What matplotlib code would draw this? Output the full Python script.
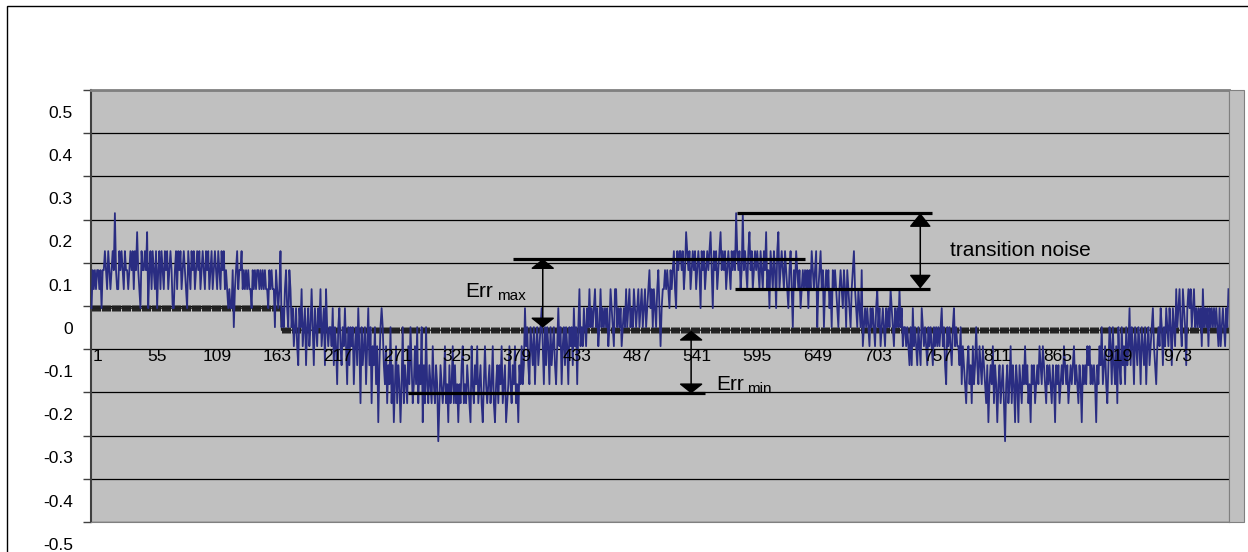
import matplotlib.pyplot as plt
from matplotlib.patches import Rectangle
import numpy as np

plt.rcParams['font.family'] = ['Liberation Sans', 'DejaVu Sans']

# noisy trace, one hex digit per sample, quantised level = digit - 7
noise_segments = [
    "7989899897" "99a98a989a" "9c988a9a98" "a9989a9a8a" "9b987a99a9" "b79a8a98a79a",
    "8a98a9a89a" "9779a8a9a8" "9a987a98a9" "a89a9a89a9" "8a9a89a89a" "98a98a9a89" "878779689a89",
    "9a89898988" "7989899898" "9898879898" "869878a",
    "6768976986" "7567547685" "6746756864" "7657685674" "8656",
    "6574653675" "4657536465" "6356475264" "5635746254" "6351467",
    "6435243624" "1352431362" "4325364235" "3624361426" "32432",
    "5324302432" "3523142352" "4231324523" "2432153243" "5234213532"
    "3423521342" "4352341235" "3243523143" "534",
    "7564365463" "5645675364" "6536456435" "7563564653" "656475636856",
    "5765768676" "7867568676" "7675687658" "8676756768" "6786768767"
    "8678678678" "9786876897578",
    "898987989a87a9a",
    "a9a89ba9a8" "9a9a89a97a" "9a89a9ab97" "a9a89ab9a9" "a89a98a9a9"
    "ca9a89c9a9" "8ab9a89a9a" "98a98a9b89" "7a98a97ab89a",
    "98a9879a86" "98a9897898" "989798a989" "a689a89689" "8978698987" "6898798698" "7689a",
    "8768769567" "6765767657" "8675676576" "7687657676" "86756",
    "6565464756" "5465476565" "4656546565" "6567564365" "65467565",
    "5463543245" "3425346435" "4354324134" "3524313423" "420342352431",
    "4314324353" "4231434234" "3543543243" "4324314342" "3435434234"
    "3453432431" "4343545343" "4314354634" "5324653",
    "6435264364" "5364574653" "6546536546" "356456754",
    "3565764657" "6576476586" "7865876478",
    "7867867676" "7586767576" "7676765756" "765768",
]
level_base = 0.045
level_step = 0.044

ref_levels = [0.045, -0.006]
ref_switch = 172

xlabels = list(range(1, 1025, 54))
ylabels = [0.5, 0.4, 0.3, 0.2, 0.1, 0, -0.1, -0.2, -0.3, -0.4, -0.5]

codes = "".join(noise_segments)
noise = [level_base + level_step * (int(c, 16) - 7) for c in codes]
x = np.arange(1, len(noise) + 1)
ref = [ref_levels[0] if i < ref_switch else ref_levels[1] for i in x]

fig = plt.figure(figsize=(12.48, 5.52), dpi=100)
fig.add_artist(Rectangle((7 / 1248, -0.1), 1.2, 1.1 - 6 / 552, transform=fig.transFigure,
                         fill=False, edgecolor='black', lw=1))
# gray strip right of the plot border
fig.add_artist(Rectangle((1229 / 1248, 30 / 552), 15 / 1248, 432 / 552, transform=fig.transFigure,
                         facecolor='#c0c0c0', edgecolor='#808080', lw=0.8))
ax = fig.add_axes([91 / 1248, 30 / 552, 1138 / 1248, 432 / 552])
ax.set_facecolor('#c0c0c0')
ax.set_xlim(0.5, len(noise) + 0.5)
ax.set_ylim(-0.45, 0.55)

ax.set_yticks(np.arange(-0.45, 0.56, 0.1))
ax.set_yticklabels([])
ax.tick_params(axis='y', length=6, color='#404040', width=1)
ax.set_xticks([])
ax.grid(axis='y', color='black', lw=0.9)
ax.set_axisbelow(True)
for s in ['top', 'right', 'bottom']:
    ax.spines[s].set_color('#808080')
ax.spines['top'].set_linewidth(2)
ax.spines['left'].set_color('#404040')
ax.spines['left'].set_linewidth(1.5)

ytr = ax.get_yaxis_transform()
for v in ylabels:
    ax.text(-0.016, v - 0.004, '%g' % v, transform=ytr, ha='right', va='center',
            fontsize=12.5, clip_on=False)

ax.plot(x, ref, color='#202020', lw=1, marker='|', ms=5, mew=0.7, zorder=3, clip_on=False)
ax.plot(x, noise, color='#2a2d82', lw=1.3, zorder=4, clip_on=False)

for c in xlabels:
    ax.text(c + 5, -0.067, str(c), ha='center', va='center', fontsize=12.5, zorder=5)

# annotations
bars = [(380, 643, 0.159), (286, 553, -0.1525), (582, 757.5, 0.265), (580, 755.5, 0.0905)]
for x0, x1, yv in bars:
    ax.plot([x0, x1], [yv, yv], color='black', lw=2.3, zorder=6, solid_capstyle='butt')

arrows = [(407, 0.159, 0.0, 0.6, 0.75), (540.5, -0.007, -0.1525, 0.6, 0.75),
          (746.7, 0.265, 0.0905, 0.85, 0.68)]
for xa, y0, y1, hl, hw in arrows:
    ax.annotate('', xy=(xa, y1), xytext=(xa, y0),
                arrowprops=dict(arrowstyle='<|-|>,head_length=%g,head_width=%g' % (hl, hw),
                                color='black', lw=1.1, shrinkA=0, shrinkB=0), zorder=7)

ax.text(337, 0.071, 'Err', fontsize=15, ha='left', va='baseline', zorder=8)
ax.text(366, 0.064, 'max', fontsize=11, ha='left', va='baseline', zorder=8)
ax.text(563, -0.144, 'Err', fontsize=15, ha='left', va='baseline', zorder=8)
ax.text(591, -0.151, 'min', fontsize=11, ha='left', va='baseline', zorder=8)
ax.text(773, 0.166, 'transition noise', fontsize=15, ha='left', va='baseline', zorder=8)

fig.savefig('out.png', dpi=100)
